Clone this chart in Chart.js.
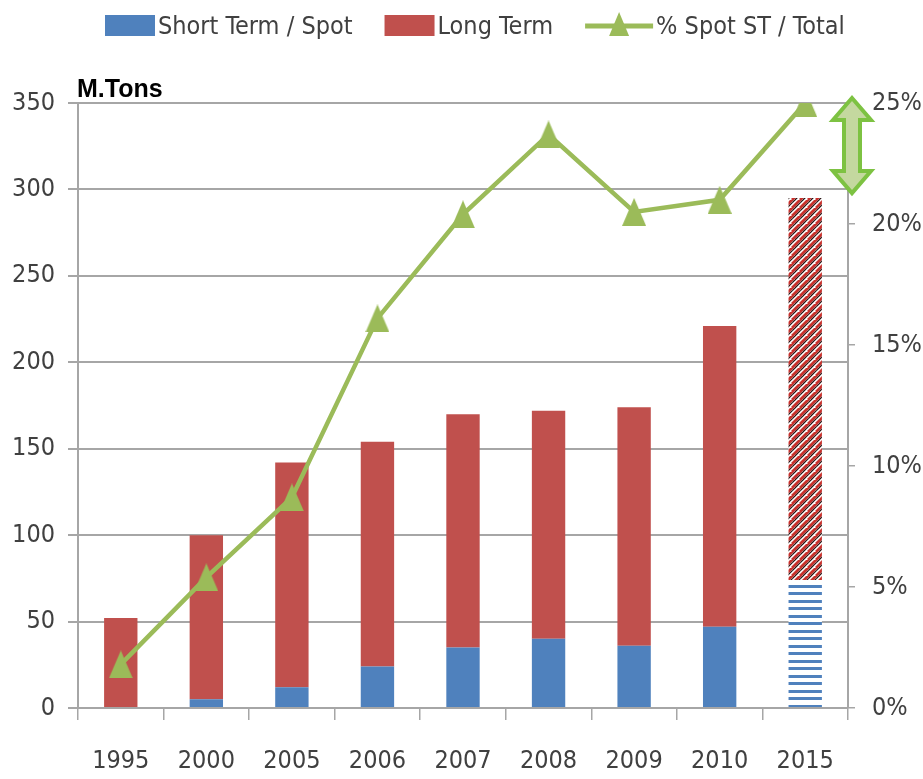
<!DOCTYPE html>
<html>
<head>
<meta charset="utf-8">
<script src="https://cdn.jsdelivr.net/npm/chart.js@4.4.1/dist/chart.umd.min.js"></script>
<style>
  html, body { margin: 0; padding: 0; background: #fff; }
  #wrap { width: 923px; height: 779px; }
</style>
</head>
<body>
<div id="wrap"><canvas id="chart" width="923" height="779"></canvas></div>
<script>
// categories and series (million tons / percent)
const years = ['1995', '2000', '2005', '2006', '2007', '2008', '2009', '2010', '2015'];
const shortTerm = [0, 5, 12, 24, 35, 40, 36, 47, 74];
const longTerm = [52, 95, 130, 130, 135, 132, 138, 174, 221];
const spotShare = [1.8, 5.4, 8.7, 16.1, 20.4, 23.7, 20.5, 21.0, 25.0];

const tonTicks = [0, 50, 100, 150, 200, 250, 300, 350];
const pctTicks = [0, 5, 10, 15, 20, 25];

const BLUE = '#4f81bd';
const RED = '#c0504d';
const GREEN = '#9bbb59';
const GRID = '#a6a6a6';
const TEXT = '#404040';
const NARROW = "'DejaVu Sans Condensed', 'Liberation Sans Narrow', 'Liberation Sans', sans-serif";
const FONT_SIZE = 25;

const last = years.length - 1;

// 2015 is a forecast: hatched fills instead of solid
function makeHatch() {
  const s = 8;
  const c = document.createElement('canvas');
  c.width = s; c.height = s;
  const g = c.getContext('2d');
  g.fillStyle = '#fff';
  g.fillRect(0, 0, s, s);
  for (const k of [-s, 0, s, 2 * s]) {
    g.strokeStyle = '#c8302c';
    g.lineWidth = 2.8;
    g.beginPath(); g.moveTo(k - s, s); g.lineTo(k + s, -s); g.stroke();
    g.strokeStyle = '#241010';
    g.lineWidth = 1.2;
    g.beginPath(); g.moveTo(k - s + 3, s); g.lineTo(k + s + 3, -s); g.stroke();
  }
  return g.createPattern(c, 'repeat');
}

function makeStripes() {
  const c = document.createElement('canvas');
  c.width = 8; c.height = 15;
  const g = c.getContext('2d');
  g.fillStyle = '#fff';
  g.fillRect(0, 0, 8, 15);
  g.fillStyle = BLUE;
  g.fillRect(0, 0, 8, 3);
  g.fillRect(0, 7, 8, 3);
  return g.createPattern(c, 'repeat');
}

function makeTriangle(w, h) {
  const c = document.createElement('canvas');
  c.width = w; c.height = h;
  const g = c.getContext('2d');
  g.fillStyle = GREEN;
  g.beginPath();
  g.moveTo(w / 2, 0);
  g.lineTo(w, h);
  g.lineTo(0, h);
  g.closePath();
  g.fill();
  return c;
}

const hatch = makeHatch();
const stripes = makeStripes();
const marker = makeTriangle(24, 28);

const legendItems = [
  { text: 'Short Term / Spot', kind: 'box', color: BLUE },
  { text: 'Long Term', kind: 'box', color: RED },
  { text: '% Spot ST / Total', kind: 'line', color: GREEN }
];

// legend, unit label and the double arrow next to the 2015 point
const decor = {
  id: 'decor',
  afterDraw(chart) {
    const ctx = chart.ctx;
    const { chartArea, scales } = chart;
    ctx.save();

    // legend
    ctx.font = FONT_SIZE + 'px ' + NARROW;
    ctx.textBaseline = 'middle';
    const boxW = 50, gap = 3, spacing = 32, lineW = 68;
    let x = 105;
    const ly = 26;
    legendItems.forEach(it => {
      if (it.kind === 'box') {
        ctx.fillStyle = it.color;
        ctx.fillRect(x, ly - 11, boxW, 21);
        x += boxW + gap;
      } else {
        ctx.strokeStyle = it.color;
        ctx.lineWidth = 5;
        ctx.beginPath(); ctx.moveTo(x, ly); ctx.lineTo(x + lineW, ly); ctx.stroke();
        ctx.fillStyle = it.color;
        ctx.beginPath();
        ctx.moveTo(x + lineW / 2, ly - 14);
        ctx.lineTo(x + lineW / 2 + 10, ly + 10);
        ctx.lineTo(x + lineW / 2 - 10, ly + 10);
        ctx.closePath();
        ctx.fill();
        x += lineW + gap;
      }
      ctx.fillStyle = TEXT;
      ctx.textAlign = 'left';
      ctx.fillText(it.text, x, ly + 1);
      x += ctx.measureText(it.text).width + spacing;
    });

    // unit label
    ctx.font = "bold 25px 'Liberation Sans', sans-serif";
    ctx.fillStyle = '#000';
    ctx.textBaseline = 'alphabetic';
    ctx.fillText('M.Tons', chartArea.left - 1, 97);

    // double-headed arrow between 2015 share and bar top
    const cx = chartArea.right + 4;
    const top = scales.y1.getPixelForValue(spotShare[last]) - 5;
    const bot = scales.y.getPixelForValue(shortTerm[last] + longTerm[last]) - 5;
    const hw = 19, hh = 22, sw = 8;
    ctx.beginPath();
    ctx.moveTo(cx, top);
    ctx.lineTo(cx + hw, top + hh);
    ctx.lineTo(cx + sw, top + hh);
    ctx.lineTo(cx + sw, bot - hh);
    ctx.lineTo(cx + hw, bot - hh);
    ctx.lineTo(cx, bot);
    ctx.lineTo(cx - hw, bot - hh);
    ctx.lineTo(cx - sw, bot - hh);
    ctx.lineTo(cx - sw, top + hh);
    ctx.lineTo(cx - hw, top + hh);
    ctx.closePath();
    ctx.fillStyle = '#c4d89f';
    ctx.fill();
    ctx.strokeStyle = '#7dc242';
    ctx.lineWidth = 4;
    ctx.lineJoin = 'miter';
    ctx.stroke();

    ctx.restore();
  }
};

Chart.defaults.font.family = NARROW;
Chart.defaults.font.size = FONT_SIZE;
Chart.defaults.color = TEXT;

new Chart(document.getElementById('chart'), {
  type: 'bar',
  data: {
    labels: years,
    datasets: [
      {
        type: 'line',
        label: '% Spot ST / Total',
        data: spotShare,
        yAxisID: 'y1',
        borderColor: GREEN,
        borderWidth: 4.5,
        pointStyle: marker,
        pointRadius: 14,
        tension: 0,
        order: 0
      },
      {
        label: 'Short Term / Spot',
        data: shortTerm,
        backgroundColor: shortTerm.map((v, i) => i === last ? stripes : BLUE),
        stack: 'tons',
        order: 1
      },
      {
        label: 'Long Term',
        data: longTerm,
        backgroundColor: longTerm.map((v, i) => i === last ? hatch : RED),
        stack: 'tons',
        order: 1
      }
    ]
  },
  options: {
    responsive: false,
    animation: false,
    layout: { padding: { top: 103, left: 0, right: 0, bottom: 0 } },
    plugins: {
      legend: { display: false },
      tooltip: { enabled: false }
    },
    datasets: {
      bar: { barPercentage: 0.39, categoryPercentage: 1 }
    },
    scales: {
      x: {
        stacked: true,
        grid: { offset: true, drawOnChartArea: false, tickLength: 12, color: GRID, lineWidth: 1.5 },
        border: { color: GRID, width: 2 },
        ticks: { padding: 26, maxRotation: 0 },
        afterFit: s => { s.height = 71; }
      },
      y: {
        stacked: true,
        min: 0,
        max: tonTicks[tonTicks.length - 1],
        afterBuildTicks: s => { s.ticks = tonTicks.map(v => ({ value: v })); },
        ticks: { padding: 13 },
        grid: { color: GRID, lineWidth: 2, tickLength: 10 },
        border: { color: GRID, width: 2 },
        afterFit: s => { s.width = 78; }
      },
      y1: {
        position: 'right',
        min: 0,
        max: pctTicks[pctTicks.length - 1],
        afterBuildTicks: s => { s.ticks = pctTicks.map(v => ({ value: v })); },
        ticks: { padding: 17, callback: v => v + '%' },
        grid: { drawOnChartArea: false, tickLength: 7, color: GRID, lineWidth: 1.5 },
        border: { color: GRID, width: 2 },
        afterFit: s => { s.width = 75; }
      }
    }
  },
  plugins: [decor]
});
</script>
</body>
</html>
